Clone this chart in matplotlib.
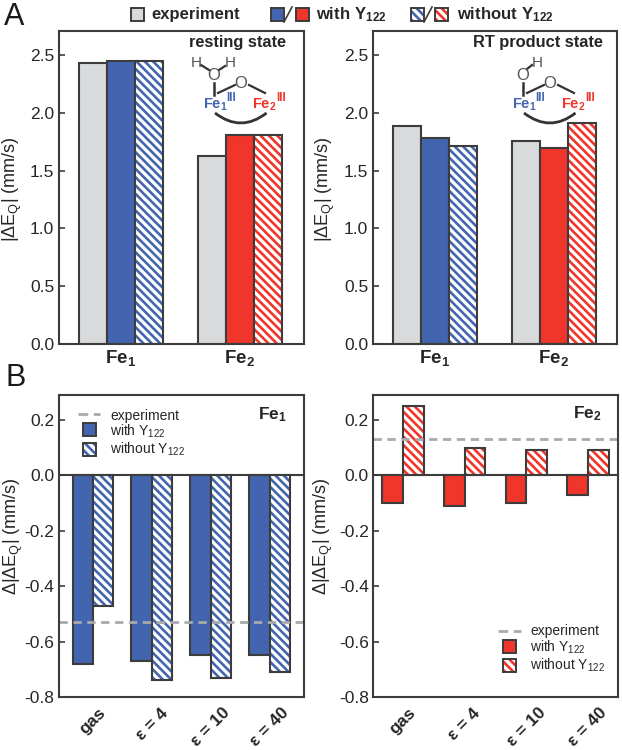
import numpy as np
from matplotlib import pyplot as plt
from matplotlib.patches import Rectangle, PathPatch
from matplotlib.path import Path

plt.rcParams['font.family'] = ['Liberation Sans', 'DejaVu Sans']
plt.rcParams['mathtext.fontset'] = 'custom'
plt.rcParams['mathtext.rm'] = 'Liberation Sans'
plt.rcParams['mathtext.bf'] = 'Liberation Sans:bold'
plt.rcParams['hatch.linewidth'] = 1.9

GREY = "#d9dadb"
BLUE = "#4365b0"
RED = "#f0352b"
DARK = "#3c3c3c"
DASH = "#a9aaac"
TEXT = "#262626"
HATCH = "\\" * 4

# Panel A values
sites = [r"$\mathbf{Fe_1}$", r"$\mathbf{Fe_2}$"]
rest_exp = [2.43, 1.63]
rest_with = [2.45, 1.81]
rest_without = [2.45, 1.81]
rt_exp = [1.89, 1.76]
rt_with = [1.78, 1.70]
rt_without = [1.71, 1.91]
ticks_a = [0.0, 0.5, 1.0, 1.5, 2.0, 2.5]

# Panel B values
solvents = ["gas", "ε = 4", "ε = 10", "ε = 40"]
fe1_with = [-0.68, -0.67, -0.65, -0.65]
fe1_without = [-0.47, -0.74, -0.73, -0.71]
fe1_exp = -0.53
fe2_with = [-0.10, -0.11, -0.10, -0.07]
fe2_without = [0.25, 0.10, 0.09, 0.09]
fe2_exp = 0.13
ticks_b = [-0.8, -0.6, -0.4, -0.2, 0.0, 0.2]

W, H = 622, 750
fig = plt.figure(figsize=(W / 100, H / 100), dpi=100)


def axes_px(x0, y0, x1, y1):
    return fig.add_axes([x0 / W, 1 - y1 / H, (x1 - x0) / W, (y1 - y0) / H])


def hatched_bar(ax, x, y, width, color):
    ax.bar(x, y, width, facecolor="white", edgecolor=color, hatch=HATCH, linewidth=0)
    ax.bar(x, y, width, facecolor="none", edgecolor=DARK, linewidth=1.5)


def style(ax, ticks):
    for s in ax.spines.values():
        s.set_linewidth(1.5)
        s.set_color(DARK)
    ax.set_yticks(ticks)
    ax.set_yticklabels(["%.1f" % t for t in ticks])
    ax.tick_params(axis="y", direction="in", length=4, width=1.2, color=DARK, labelsize=12.5,
                   labelcolor=TEXT, pad=3)
    ax.tick_params(axis="x", length=0)


def panel_a(ax, exp, with_y, without_y, color_list, label_x):
    x = np.array([0, 4.25])
    ax.bar(x - 1, exp, 1, color=GREY, edgecolor=DARK, linewidth=1.5)
    ax.bar(x, with_y, 1, color=color_list, edgecolor=DARK, linewidth=1.5)
    for i in range(2):
        hatched_bar(ax, x[i] + 1, without_y[i], 1, color_list[i])
    ax.set_xlim(-2.22, 6.52)
    ax.set_ylim(0, 2.708)
    ax.set_xticks(x)
    ax.set_xticklabels(sites, fontsize=13.5, color=TEXT)
    ax.tick_params(axis="x", pad=3)
    style(ax, ticks_a)
    ax.set_ylabel("|ΔE$_{\\mathrm{Q}}$| (mm/s)", fontsize=13, color=TEXT)
    ax.yaxis.set_label_coords(label_x, 0.494)


def panel_b(ax, with_y, without_y, exp, color, xlim, width, label_x):
    x = np.arange(4)
    ax.bar(x - width / 2, with_y, width, color=color, edgecolor=DARK, linewidth=1.5)
    hatched_bar(ax, x + width / 2, without_y, width, color)
    ax.axhline(0, color=DARK, linewidth=1.5)
    ax.axhline(exp, color=DASH, linewidth=2, dashes=(3, 2))
    ax.set_xlim(*xlim)
    ax.set_ylim(-0.8, 0.29)
    ax.set_xticks(x)
    ax.set_xticklabels(solvents, rotation=45, ha="center", fontsize=12.5, fontweight="bold", color=TEXT)
    ax.tick_params(axis="x", pad=6)
    style(ax, ticks_b)
    ax.set_ylabel("Δ|ΔE$_{\\mathrm{Q}}$| (mm/s)", fontsize=13, color=TEXT)
    ax.yaxis.set_label_coords(label_x, 0.533)


ax1 = axes_px(58.5, 31, 303.5, 344)
ax2 = axes_px(372.5, 31, 617.5, 344)
ax3 = axes_px(58.5, 395, 303.5, 697)
ax4 = axes_px(373, 395, 618, 697)

panel_a(ax1, rest_exp, rest_with, rest_without, [BLUE, RED], -0.14)
panel_a(ax2, rt_exp, rt_with, rt_without, [BLUE, RED], -0.145)
panel_b(ax3, fe1_with, fe1_without, fe1_exp, BLUE, (-0.585, 3.57), 0.347, -0.135)
panel_b(ax4, fe2_with, fe2_without, fe2_exp, RED, (-0.486, 3.485), 0.335, -0.155)

# Overlay in pixel coordinates for the legends and the drawn structures
ov = fig.add_axes([0, 0, 1, 1], facecolor="none")
ov.set_xlim(0, W)
ov.set_ylim(H, 0)
ov.axis("off")


def swatch(x, y, color, hatch=False, w=13, h=12.5):
    if hatch:
        ov.add_patch(Rectangle((x, y), w, h, facecolor="white", edgecolor=color,
                               hatch=HATCH, linewidth=0))
        ov.add_patch(Rectangle((x, y), w, h, facecolor="none", edgecolor=DARK, linewidth=1.4))
    else:
        ov.add_patch(Rectangle((x, y), w, h, facecolor=color, edgecolor=DARK, linewidth=1.4))


def label(x, y, s, **kw):
    kw.setdefault("color", TEXT)
    kw.setdefault("va", "center")
    ov.text(x, y, s, **kw)


ov.text(4, 17, "A", fontsize=22, color="#1a1a1a", va="center")
ov.text(5, 378, "B", fontsize=22, color="#1a1a1a", va="center")

# Top legend
swatch(131, 8, GREY)
label(151, 14, "experiment", fontsize=12, fontweight="bold")
swatch(271, 8, BLUE)
ov.plot([284, 292], [22, 7], color=DARK, linewidth=1.2)
swatch(296, 8, RED)
label(315.5, 15, r"$\mathbf{with\ Y_{122}}$", fontsize=12)
swatch(411, 8, BLUE, True)
ov.plot([424, 432], [22, 7], color=DARK, linewidth=1.2)
swatch(435, 8, RED, True)
label(457, 15, r"$\mathbf{without\ Y_{122}}$", fontsize=12)

# Panel titles
label(286, 43, "resting state", fontsize=11.8, fontweight="bold", ha="right")
label(603, 43, "RT product state", fontsize=11.8, fontweight="bold", ha="right")
label(258, 415, r"$\mathbf{Fe_1}$", fontsize=12.5)
label(573, 414, r"$\mathbf{Fe_2}$", fontsize=12.5)


def structure(dx, two_h):
    c = "#333333"
    grey = "#555555"
    label(dx + 214, 75, "O", fontsize=12, color=grey, ha="center")
    label(dx + 241, 84, "O", fontsize=12, color=grey, ha="center")
    if two_h:
        label(dx + 196, 63, "H", fontsize=11, color=grey, ha="center")
        label(dx + 230, 63, "H", fontsize=11, color=grey, ha="center")
        ov.plot([dx + 201, dx + 209], [65, 70], color=c, linewidth=1.6)
        ov.plot([dx + 219, dx + 225], [70, 66], color=c, linewidth=1.6)
    else:
        label(dx + 228, 63, "H", fontsize=11, color=grey, ha="center")
        ov.plot([dx + 218, dx + 223], [69, 65], color=c, linewidth=1.6)
    ov.plot([dx + 213.5, dx + 213.5], [83, 95], color=c, linewidth=1.8)
    ov.plot([dx + 218, dx + 235], [93, 85], color=c, linewidth=1.6)
    ov.plot([dx + 249, dx + 265], [85, 93], color=c, linewidth=1.6)
    label(dx + 203, 105, r"$\mathbf{Fe_1}$", fontsize=10.5, color=BLUE)
    label(dx + 226, 98, "III", fontsize=8.5, fontweight="bold", color=BLUE)
    label(dx + 252, 105, r"$\mathbf{Fe_2}$", fontsize=10.5, color=RED)
    label(dx + 276, 98, "III", fontsize=8.5, fontweight="bold", color=RED)
    arc = Path([(dx + 215, 113), (dx + 241, 133), (dx + 266.5, 113)],
               [Path.MOVETO, Path.CURVE3, Path.CURVE3])
    ov.add_patch(PathPatch(arc, facecolor="none", edgecolor=c, linewidth=2))


structure(0, True)
structure(309, False)

# Panel B legends
ov.plot([78, 100], [414, 414], color=DASH, linewidth=2, dashes=(3.5, 2))
label(110, 416, "experiment", fontsize=10)
swatch(83, 423, BLUE)
label(110, 431, "with Y$_{122}$", fontsize=10)
swatch(83, 443, BLUE, True)
label(110, 449, "without Y$_{122}$", fontsize=10)

ov.plot([498, 521], [631, 631], color=DASH, linewidth=2, dashes=(3.5, 2))
label(530, 631, "experiment", fontsize=10)
swatch(503, 640, RED)
label(530, 647, "with Y$_{122}$", fontsize=10)
swatch(503, 659, RED, True)
label(530, 665, "without Y$_{122}$", fontsize=10)

plt.savefig("out.png", dpi=100)
